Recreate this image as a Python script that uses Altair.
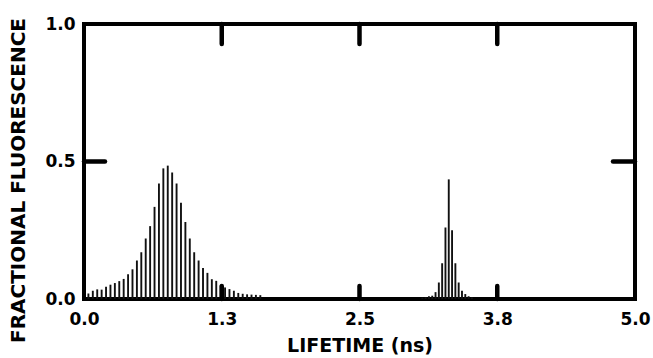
import altair as alt
import pandas as pd

# Broad lifetime distribution (ns) and its fractional fluorescence
peak1_lifetime = [0.04, 0.08, 0.12, 0.16, 0.20, 0.24, 0.28, 0.32, 0.36, 0.40,
                  0.44, 0.48, 0.52, 0.56, 0.60, 0.64, 0.68, 0.72, 0.76, 0.80,
                  0.84, 0.88, 0.92, 0.96, 1.00, 1.04, 1.08, 1.12, 1.16, 1.20,
                  1.24, 1.28, 1.32, 1.36, 1.40, 1.44, 1.48, 1.52, 1.56, 1.60]
peak1_fraction = [0.020, 0.030, 0.035, 0.034, 0.045, 0.052, 0.058, 0.065, 0.073, 0.090,
                  0.108, 0.140, 0.170, 0.220, 0.265, 0.335, 0.420, 0.475, 0.485, 0.460,
                  0.420, 0.350, 0.280, 0.220, 0.170, 0.140, 0.113, 0.095, 0.072, 0.066,
                  0.050, 0.042, 0.036, 0.030, 0.022, 0.019, 0.017, 0.016, 0.015, 0.014]

# Narrow lifetime distribution
peak2_lifetime = [3.07, 3.10, 3.13, 3.16, 3.19, 3.22, 3.25, 3.28, 3.31, 3.34,
                  3.37, 3.40, 3.43, 3.46, 3.49, 3.52]
peak2_fraction = [0.005, 0.007, 0.010, 0.012, 0.025, 0.060, 0.130, 0.260, 0.435, 0.250,
                  0.130, 0.060, 0.030, 0.018, 0.010, 0.006]

x_tick_values = [0.0, 1.25, 2.5, 3.75, 5.0]
x_tick_labels = ["0.0", "1.3", "2.5", "3.8", "5.0"]
y_tick_values = [0.0, 0.5, 1.0]
y_tick_labels = ["0.0", "0.5", "1.0"]
inner_x_ticks = [1.25, 2.5, 3.75]
inner_y_ticks = [0.5]

W, H = 551, 275
FONT = "DejaVu Sans"


def label_expr(values, labels):
    expr = "''"
    for v, l in reversed(list(zip(values, labels))):
        expr = f"datum.value == {v} ? '{l}' : ({expr})"
    return expr


bars = pd.DataFrame({
    "lifetime": peak1_lifetime + peak2_lifetime,
    "fraction": peak1_fraction + peak2_fraction,
})
xt = pd.DataFrame({"lifetime": inner_x_ticks})
yt = pd.DataFrame({"fraction": inner_y_ticks})

xs = alt.Scale(domain=[0, 5], nice=False, zero=False)
ys = alt.Scale(domain=[0, 1], nice=False, zero=False)

x_axis = alt.Axis(
    values=x_tick_values, labelExpr=label_expr(x_tick_values, x_tick_labels),
    ticks=False, domain=False, grid=False, labelFlush=False, labelOverlap=False,
    labelPadding=12, labelFont=FONT, labelFontSize=17, labelFontWeight="bold",
    labelColor="black", title="LIFETIME (ns)", titleFont=FONT, titleFontSize=19,
    titleFontWeight="bold", titleColor="black", titlePadding=9,
)
y_axis = alt.Axis(
    values=y_tick_values, labelExpr=label_expr(y_tick_values, y_tick_labels),
    ticks=False, domain=False, grid=False, labelFlush=False, labelOverlap=False,
    labelPadding=9, labelFont=FONT, labelFontSize=17, labelFontWeight="bold",
    labelColor="black", title="FRACTIONAL FLUORESCENCE", titleFont=FONT,
    titleFontSize=20, titleFontWeight="bold", titleColor="black", titlePadding=16,
    titleY=156, titleAlign="center",
)

X = alt.X("lifetime:Q", scale=xs, axis=x_axis)
Y = alt.Y("fraction:Q", scale=ys, axis=y_axis)

bar_layer = alt.Chart(bars).mark_rule(color="#111111", strokeWidth=1.9).encode(
    x=X, y=Y, y2=alt.datum(0),
)

tick_style = dict(color="black", strokeWidth=4.5, strokeCap="round")
top_ticks = alt.Chart(xt).mark_rule(**tick_style).encode(
    x=X, y=alt.value(0), y2=alt.value(20))
bottom_ticks = alt.Chart(xt).mark_rule(**tick_style).encode(
    x=X, y=alt.value(H), y2=alt.value(H - 13))
left_ticks = alt.Chart(yt).mark_rule(**tick_style).encode(
    y=Y, x=alt.value(0), x2=alt.value(21))
right_ticks = alt.Chart(yt).mark_rule(**tick_style).encode(
    y=Y, x=alt.value(W), x2=alt.value(W - 22))

chart = alt.layer(bar_layer, top_ticks, bottom_ticks, left_ticks, right_ticks).properties(
    width=W, height=H,
    autosize=alt.AutoSizeParams(type="none"),
    padding={"left": 84, "top": 24, "right": 18, "bottom": 59},
    background="white",
).configure_view(stroke="black", strokeWidth=4)

chart.save("out.html", embed_options={"renderer": "svg", "actions": False})
